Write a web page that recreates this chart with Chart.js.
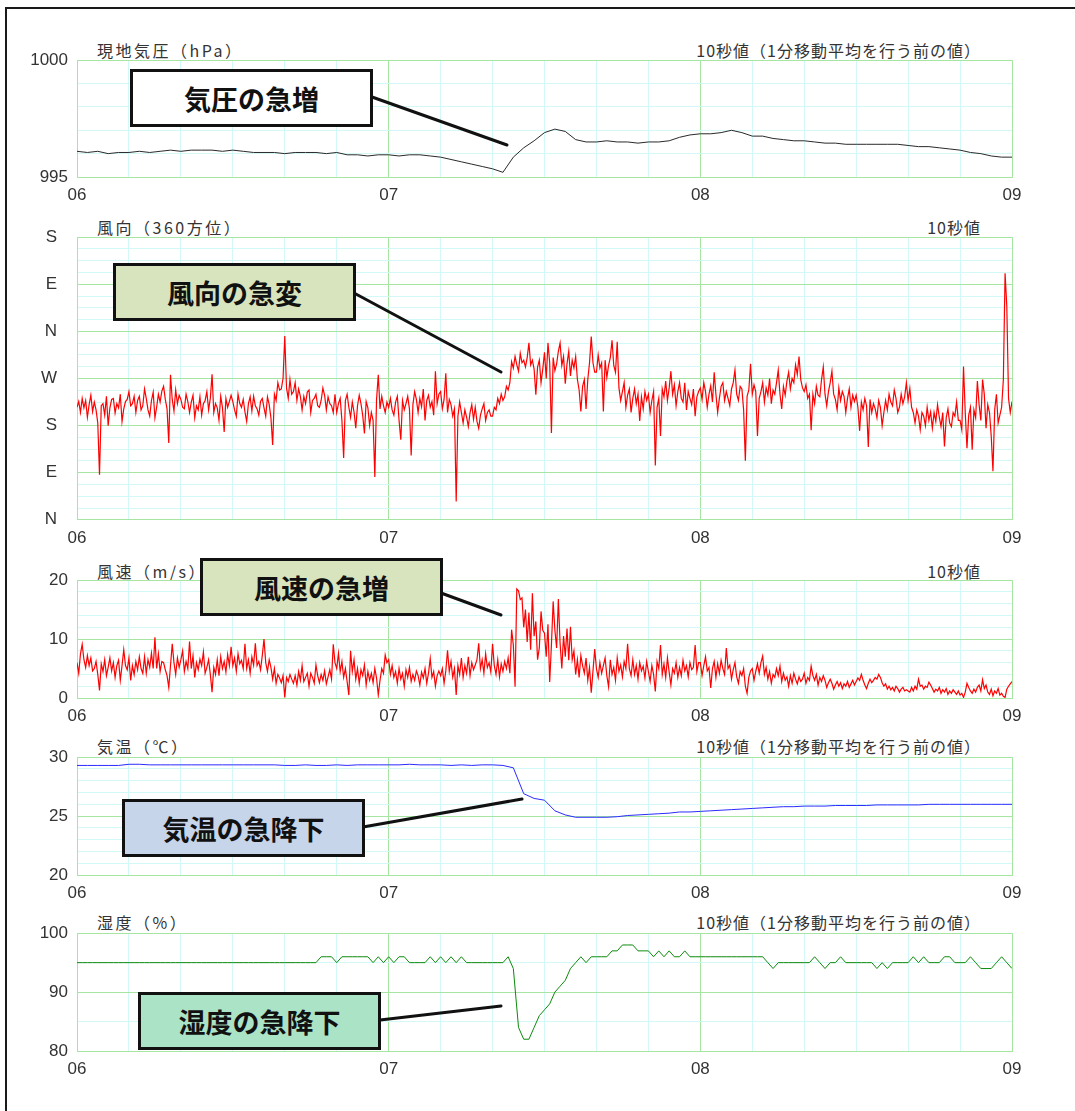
<!DOCTYPE html>
<html lang="ja">
<head>
<meta charset="utf-8">
<title>気象要素の急変</title>
<script src="https://cdn.jsdelivr.net/npm/chart.js@4.4.1/dist/chart.umd.min.js"></script>
<style>
  html, body { margin: 0; padding: 0; background: #fff; }
  body { width: 1075px; height: 1111px; position: relative; overflow: hidden;
         font-family: "Noto Sans CJK JP", "Noto Sans", sans-serif; }
  .frame { position: absolute; left: 5px; top: 7px; width: 1200px; height: 1200px; border: 2px solid #1a1a1a; }
  .panel { position: absolute; left: 0; }
  .title { position: absolute; font-size: 16px; line-height: 18px; letter-spacing: 1px; color: #333; white-space: nowrap; }
  .title.left { left: 97px; letter-spacing: 2.5px; }
  .title.right { right: 94px; }
  .note { position: absolute; box-sizing: border-box; height: 58px; width: 243px; border: 3px solid #111;
          display: flex; align-items: center; justify-content: center;
          font-size: 27px; font-weight: bold; color: #111; z-index: 3; }
  svg { position: absolute; left: 0; top: 0; z-index: 2; }
</style>
</head>
<body>
<div class="frame"></div>

<div class="title left" style="top:41px">現地気圧（hPa）</div>
<div class="title right" style="top:41px">10秒値（1分移動平均を行う前の値）</div>
<div class="title left" style="top:218px">風向（360方位）</div>
<div class="title right" style="top:218px">10秒値</div>
<div class="title left" style="top:562px">風速（m/s）</div>
<div class="title right" style="top:562px">10秒値</div>
<div class="title left" style="top:737px">気温（℃）</div>
<div class="title right" style="top:737px">10秒値（1分移動平均を行う前の値）</div>
<div class="title left" style="top:913px">湿度（%）</div>
<div class="title right" style="top:913px">10秒値（1分移動平均を行う前の値）</div>

<svg width="1075" height="1111">
  <g stroke="#111" stroke-width="3" stroke-linecap="round">
    <line x1="372" y1="97" x2="507" y2="145"/>
    <line x1="354" y1="293" x2="501" y2="372"/>
    <line x1="441" y1="593" x2="501" y2="615"/>
    <line x1="363" y1="827" x2="522" y2="799"/>
    <line x1="380" y1="1020" x2="501" y2="1006"/>
  </g>
</svg>

<div class="note" style="left:130px;top:69px;background:#ffffff">気圧の急増</div>
<div class="note" style="left:113px;top:263px;background:#d8e4bd">風向の急変</div>
<div class="note" style="left:200px;top:558px;background:#d8e4bd">風速の急増</div>
<div class="note" style="left:122px;top:799px;background:#c6d5ea">気温の急降下</div>
<div class="note" style="left:138px;top:992px;background:#abe3c6">湿度の急降下</div>

<script>
// time axis: minutes after 06:00
const hourLabels = ['06', '07', '08', '09'];
const dirLabels = ['N', 'E', 'S', 'W', 'N', 'E', 'S'];   // every 90 deg, bottom to top

// 現地気圧 hPa, every 2 min
const pressure = [
  996.1, 996.05, 996.1, 996.0, 996.05, 996.05, 996.1, 996.05, 996.1, 996.15,
  996.1, 996.15, 996.15, 996.15, 996.1, 996.15, 996.1, 996.05, 996.05, 996.05,
  996.0, 996.05, 996.05, 996.05, 996.0, 996.05, 995.95, 995.95, 995.9, 995.95,
  995.95, 995.9, 995.95, 995.95, 995.9, 995.85, 995.75, 995.65, 995.55, 995.45,
  995.35, 995.2, 995.85, 996.25, 996.55, 996.9, 997.05, 996.95, 996.6, 996.5,
  996.5, 996.55, 996.5, 996.5, 996.45, 996.5, 996.5, 996.55, 996.7, 996.8,
  996.85, 996.85, 996.9, 997.0, 996.9, 996.75, 996.75, 996.65, 996.6, 996.55,
  996.55, 996.5, 996.45, 996.45, 996.4, 996.4, 996.4, 996.4, 996.4, 996.4,
  996.35, 996.3, 996.3, 996.25, 996.2, 996.15, 996.05, 996.0, 995.9, 995.85,
  995.85
];

// 風向 deg (0 = N at the bottom, 540 = S at the top), every 20 s, one row = 10 min
const windDir = [
  215, 226, 205, 232, 214, 228, 196, 220, 238, 207, 225, 210, 185, 86, 218, 222, 200, 236, 180, 214, 230, 232, 204, 222, 214, 240, 188, 212, 226, 230,
  245, 218, 222, 236, 205, 228, 236, 210, 218, 250, 232, 210, 198, 228, 244, 195, 215, 240, 225, 246, 255, 230, 212, 147, 277, 230, 208, 248, 222, 238,
  230, 215, 212, 240, 226, 205, 225, 238, 195, 218, 210, 235, 200, 222, 228, 245, 210, 232, 278, 205, 222, 214, 190, 236, 215, 168, 232, 215, 226, 238,
  226, 210, 198, 240, 222, 215, 230, 206, 188, 222, 235, 208, 236, 218, 212, 200, 226, 232, 214, 198, 235, 220, 195, 143, 240, 228, 262, 248, 250, 270,
  351, 252, 232, 268, 240, 245, 262, 228, 250, 236, 210, 236, 222, 244, 248, 205, 228, 232, 240, 218, 215, 228, 252, 238, 210, 235, 222, 218, 205, 240,
  205, 222, 232, 190, 118, 228, 240, 215, 196, 225, 206, 175, 218, 238, 222, 200, 165, 226, 214, 180, 205, 190, 82, 230, 277, 212, 236, 218, 205, 225,
  215, 232, 210, 200, 225, 236, 190, 153, 228, 210, 222, 236, 212, 123, 220, 245, 230, 205, 232, 216, 250, 190, 228, 238, 215, 226, 200, 284, 222, 240,
  245, 212, 230, 280, 205, 230, 220, 198, 212, 35, 198, 225, 205, 185, 210, 196, 178, 205, 220, 192, 215, 188, 175, 200, 212, 222, 190, 205, 210, 198,
  198, 215, 210, 232, 222, 240, 228, 235, 255, 248, 262, 302, 290, 312, 296, 284, 318, 300, 305, 292, 310, 338, 296, 305, 288, 239, 292, 305, 262, 288,
  320, 270, 338, 300, 166, 310, 285, 298, 322, 338, 295, 312, 260, 298, 322, 275, 305, 290, 312, 268, 248, 207, 255, 268, 212, 268, 300, 350, 300, 282,
  282, 315, 290, 300, 207, 305, 272, 295, 310, 343, 295, 282, 340, 252, 228, 245, 262, 215, 238, 250, 205, 232, 250, 222, 240, 189, 235, 212, 245, 228,
  240, 205, 228, 245, 104, 215, 232, 160, 250, 235, 265, 228, 252, 284, 240, 258, 218, 245, 262, 232, 225, 262, 210, 245, 232, 220, 250, 198, 235, 245,
  252, 230, 262, 245, 215, 240, 256, 225, 282, 240, 205, 232, 255, 262, 228, 245, 232, 218, 250, 262, 286, 240, 228, 255, 250, 210, 113, 236, 248, 298,
  240, 258, 245, 160, 232, 245, 262, 225, 252, 238, 270, 222, 248, 240, 262, 286, 240, 212, 255, 238, 265, 282, 250, 270, 262, 296, 278, 312, 268, 252,
  245, 258, 232, 240, 171, 240, 222, 255, 238, 235, 268, 292, 240, 218, 245, 262, 284, 240, 230, 210, 252, 228, 245, 236, 205, 232, 250, 215, 238, 226,
  238, 215, 170, 225, 210, 232, 218, 139, 230, 205, 222, 212, 195, 228, 215, 180, 205, 228, 210, 240, 225, 218, 248, 232, 205, 215, 240, 222, 235, 262,
  228, 251, 215, 205, 185, 210, 198, 172, 205, 198, 180, 215, 190, 206, 175, 205, 188, 220, 196, 178, 205, 140, 195, 212, 185, 178, 205, 198, 225, 190,
  190, 172, 293, 205, 137, 200, 215, 134, 210, 195, 265, 220, 190, 268, 240, 175, 220, 205, 160, 93, 210, 240, 185, 200, 215, 267, 471, 408, 232, 205,
  226
];

// 風速 m/s, every 20 s, one row = 10 min
const windSpeed = [
  6.0, 4.2, 7.5, 9.1, 6.5, 5.2, 7.2, 5.5, 6.8, 4.6, 5.0, 6.2, 4.0, 1.3, 5.8, 4.5, 6.5, 3.8, 5.2, 6.8, 4.6, 6.0, 3.5, 5.5, 6.4, 3.0, 5.5, 8.2, 5.5, 4.8,
  6.8, 3.0, 5.5, 4.0, 6.2, 4.8, 7.0, 5.0, 4.2, 7.0, 4.2, 6.5, 5.2, 7.6, 5.0, 10.3, 5.0, 7.5, 4.5, 6.2, 6.0, 4.8, 3.8, 1.8, 5.5, 9.2, 6.0, 4.0, 6.8, 5.2,
  6.5, 8.0, 4.5, 6.2, 5.0, 9.6, 5.0, 7.2, 3.5, 6.0, 4.8, 6.6, 5.5, 7.8, 4.2, 5.2, 6.5, 4.0, 1.0, 5.2, 4.0, 6.5, 3.8, 7.0, 5.0, 6.2, 4.4, 7.4, 5.5, 8.7,
  5.5, 6.8, 4.5, 7.5, 5.8, 6.4, 5.0, 9.2, 5.0, 6.5, 4.2, 7.0, 5.6, 9.3, 5.5, 6.2, 4.8, 7.2, 10.0, 6.0, 4.5, 6.5, 5.2, 3.2, 5.0, 2.5, 4.0, 3.4, 2.6, 3.8,
  0.1, 3.5, 2.8, 4.0, 3.2, 2.5, 3.8, 2.2, 4.5, 3.0, 5.5, 2.8, 3.5, 4.2, 2.0, 4.2, 3.5, 2.5, 5.6, 3.8, 2.6, 4.0, 3.0, 4.6, 2.4, 3.6, 4.8, 3.2, 9.1, 6.0,
  5.0, 7.6, 4.5, 6.2, 3.5, 5.0, 2.8, 0.5, 8.0, 4.5, 6.5, 3.2, 5.0, 2.5, 4.8, 3.8, 5.6, 2.2, 4.5, 3.0, 4.2, 2.6, 5.0, 3.4, 0.5, 3.0, 5.0, 4.2, 7.3, 6.0,
  6.5, 4.0, 5.5, 3.5, 4.5, 2.5, 5.0, 3.2, 4.2, 2.0, 4.8, 3.5, 5.2, 2.8, 4.0, 3.0, 4.6, 3.8, 2.2, 4.4, 3.4, 5.0, 2.5, 4.2, 6.7, 3.5, 4.5, 2.0, 3.8, 4.6,
  3.8, 5.0, 2.5, 4.6, 8.1, 4.5, 6.2, 3.5, 5.0, 0.5, 5.5, 4.0, 6.8, 3.5, 5.5, 4.2, 7.0, 3.8, 6.0, 4.8, 5.6, 6.5, 9.3, 5.0, 6.5, 4.2, 7.5, 5.2, 6.0, 4.4,
  9.2, 5.5, 4.0, 6.5, 3.6, 5.8, 4.5, 6.2, 5.0, 6.8, 4.2, 11.6, 9.0, 1.9, 18.5, 18.2, 16.7, 17.0, 12.0, 15.0, 9.5, 14.5, 8.2, 17.8, 10.5, 13.0, 6.5, 8.5, 14.7, 11.5,
  11.0, 7.0, 12.5, 2.7, 9.0, 16.4, 11.5, 8.5, 16.8, 9.3, 5.0, 10.5, 7.0, 11.8, 6.4, 12.1, 6.5, 8.0, 4.0, 6.5, 3.5, 7.2, 5.5, 4.2, 6.8, 3.0, 5.2, 0.9, 4.6, 8.3,
  5.0, 3.5, 6.0, 4.2, 5.5, 6.8, 3.8, 1.9, 6.5, 4.0, 5.2, 3.0, 6.8, 4.5, 5.6, 3.6, 6.2, 5.0, 9.2, 5.0, 3.8, 6.5, 4.0, 5.5, 3.2, 6.0, 4.6, 5.4, 3.4, 6.2,
  4.5, 2.8, 5.5, 4.0, 1.1, 6.2, 5.0, 9.0, 4.0, 5.8, 3.5, 6.8, 4.4, 2.2, 5.0, 4.2, 6.0, 3.5, 5.2, 3.8, 6.4, 4.6, 5.5, 3.6, 6.0, 4.8, 5.2, 9.0, 4.5, 6.0,
  6.0, 3.8, 5.5, 7.0, 4.6, 5.2, 1.7, 5.0, 6.2, 3.5, 5.8, 4.2, 6.4, 5.0, 4.0, 8.5, 5.0, 5.6, 3.2, 4.8, 6.0, 3.6, 2.5, 4.5, 3.8, 5.0, 2.0, 0.8, 3.5, 4.6,
  5.0, 3.0, 4.5, 5.8, 4.2, 6.0, 7.1, 4.0, 5.2, 3.2, 4.5, 2.5, 4.0, 3.5, 5.0, 3.8, 5.4, 2.8, 4.2, 3.0, 3.6, 2.0, 3.8, 2.5, 4.2, 3.2, 2.4, 3.6, 2.8, 3.2,
  4.2, 2.5, 3.5, 3.0, 5.4, 3.8, 3.0, 4.0, 2.2, 3.5, 2.8, 3.8, 3.0, 1.8, 2.6, 3.2, 2.5, 1.5, 2.2, 2.8, 2.0, 2.6, 1.6, 2.4, 2.0, 2.8, 1.8, 2.4, 3.0, 2.2,
  2.8, 3.4, 3.0, 4.0, 3.0, 2.2, 1.6, 2.5, 3.2, 2.6, 3.0, 3.5, 3.2, 4.0, 3.5, 2.6, 2.0, 2.4, 1.5, 2.0, 1.4, 1.8, 1.2, 2.0, 1.6, 1.0, 1.5, 1.8, 1.2, 1.4,
  1.2, 1.0, 1.8, 1.2, 2.0, 1.5, 3.2, 2.0, 2.2, 1.5, 2.0, 1.8, 2.7, 2.2, 1.6, 1.0, 1.5, 1.2, 1.8, 0.8, 1.4, 1.0, 1.6, 0.6, 1.2, 0.8, 1.4, 1.0, 0.6, 1.2,
  0.5, 0.8, 0.1, 1.0, 2.5, 1.8, 1.2, 0.8, 1.5, 1.0, 1.8, 2.2, 1.2, 3.1, 1.6, 2.2, 1.0, 0.6, 1.5, 0.4, 1.2, 0.8, 1.6, 0.5, 0.8, 0.3, 0.1, 1.5, 2.0, 2.4,
  2.8
];

// 気温 ℃, every 2 min
const temperature = [
  29.3, 29.3, 29.3, 29.3, 29.3, 29.4, 29.4, 29.35, 29.35, 29.35,
  29.35, 29.35, 29.35, 29.35, 29.35, 29.35, 29.35, 29.35, 29.35, 29.35,
  29.3, 29.3, 29.35, 29.3, 29.3, 29.35, 29.3, 29.35, 29.35, 29.35,
  29.35, 29.35, 29.4, 29.35, 29.35, 29.35, 29.3, 29.35, 29.3, 29.35,
  29.35, 29.3, 29.1, 26.9, 26.5, 26.35, 25.45, 25.1, 24.9, 24.9,
  24.9, 24.9, 24.95, 25.05, 25.1, 25.15, 25.2, 25.25, 25.35, 25.35,
  25.4, 25.45, 25.5, 25.55, 25.6, 25.65, 25.7, 25.75, 25.8, 25.8,
  25.85, 25.85, 25.85, 25.9, 25.9, 25.9, 25.9, 25.95, 25.95, 25.95,
  25.95, 25.95, 26.0, 26.0, 26.0, 26.0, 26.0, 26.0, 26.0, 26.0,
  26.0
];

// 湿度 %, every minute
const humidity = [
  95, 95, 95, 95, 95, 95, 95, 95, 95, 95,
  95, 95, 95, 95, 95, 95, 95, 95, 95, 95,
  95, 95, 95, 95, 95, 95, 95, 95, 95, 95,
  95, 95, 95, 95, 95, 95, 95, 95, 95, 95,
  95, 95, 95, 95, 95, 95, 95, 96, 96, 96,
  95, 96, 96, 96, 96, 96, 96, 95, 96, 95,
  96, 95, 96, 96, 95, 95, 95, 95, 96, 95,
  96, 95, 96, 95, 96, 95, 95, 95, 95, 95,
  95, 95, 95, 96, 94, 84, 82, 82, 84, 86,
  87, 88, 90, 91, 92, 94, 95, 96, 95, 96,
  96, 96, 96, 97, 97, 98, 98, 98, 97, 97,
  97, 96, 97, 96, 97, 96, 96, 97, 96, 96,
  96, 96, 96, 96, 96, 96, 96, 96, 96, 96,
  96, 96, 96, 95, 94, 95, 95, 95, 95, 95,
  95, 95, 96, 95, 94, 95, 95, 96, 95, 95,
  95, 95, 95, 95, 94, 95, 94, 95, 95, 95,
  95, 96, 95, 96, 95, 95, 95, 96, 96, 95,
  95, 95, 96, 95, 94, 94, 94, 95, 96, 95,
  94
];

const GREEN = '#a6e6a2';
const CYAN = '#d3f8f8';
const tickFont = { family: 'Liberation Sans', size: 17 };
const PLOT_LEFT = 77, PLOT_RIGHT = 1012, AXIS_H = 30;

function toPoints(values, step) {
  return values.map((v, i) => ({ x: i * step, y: v }));
}

function buildConfig(o) {
  const isMajor = v => Math.abs((v - o.min) % o.major) < 1e-6;
  return {
    type: 'line',
    data: {
      datasets: [{
        data: toPoints(o.values, o.step),
        borderColor: o.color,
        borderWidth: o.width || 1,
        pointRadius: 0,
        tension: 0,
        fill: false
      }]
    },
    options: {
      responsive: false,
      animation: false,
      parsing: false,
      layout: { padding: { top: 0, right: 1040 - PLOT_RIGHT, left: 0, bottom: 0 } },
      plugins: { legend: { display: false }, tooltip: { enabled: false } },
      scales: {
        x: {
          type: 'linear', min: 0, max: 180,
          afterFit: s => { s.height = AXIS_H; },
          border: { color: GREEN },
          grid: { color: c => c.tick.value % 60 === 0 ? GREEN : CYAN, drawTicks: false },
          ticks: {
            stepSize: 10, autoSkip: false, maxRotation: 0, padding: 8,
            color: '#333', font: tickFont,
            callback: v => v % 60 === 0 ? hourLabels[v / 60] : ''
          }
        },
        y: {
          min: o.min, max: o.max,
          afterFit: s => { s.width = PLOT_LEFT; },
          border: { color: GREEN },
          grid: { color: c => isMajor(c.tick.value) ? GREEN : CYAN, drawTicks: false },
          ticks: {
            stepSize: o.minor, autoSkip: false, padding: o.pad || 9,
            color: '#333', font: tickFont,
            callback: v => isMajor(v) ? (o.label ? o.label(v) : String(v)) : ''
          }
        }
      }
    }
  };
}

// draw once to learn the insets Chart.js puts round the plot, then redraw at the exact size
function makePanel(o) {
  const plotH = o.bottom - o.top;
  const box = document.createElement('div');
  box.className = 'panel';
  document.body.appendChild(box);

  let cv = document.createElement('canvas');
  cv.width = 1040; cv.height = plotH + 80;
  box.appendChild(cv);
  let chart = new Chart(cv, buildConfig(o));
  const insetTop = chart.chartArea.top;
  const insetBottom = cv.height - chart.chartArea.bottom;
  chart.destroy();
  box.removeChild(cv);

  cv = document.createElement('canvas');
  cv.width = 1040; cv.height = insetTop + plotH + insetBottom;
  box.appendChild(cv);
  box.style.top = (o.top - insetTop) + 'px';
  new Chart(cv, buildConfig(o));
}

makePanel({ top: 60, bottom: 177, values: pressure, step: 2, color: '#2a2a2a',
            min: 995, max: 1000, minor: 1, major: 5 });
makePanel({ top: 237, bottom: 520, values: windDir, step: 1 / 3, color: '#ff0000', width: 1.2,
            min: 0, max: 540, minor: 22.5, major: 90, pad: 20,
            label: v => dirLabels[Math.round(v / 90)] });
makePanel({ top: 580, bottom: 698, values: windSpeed, step: 1 / 3, color: '#ff0000', width: 1.2,
            min: 0, max: 20, minor: 2, major: 10 });
makePanel({ top: 757, bottom: 875, values: temperature, step: 2, color: '#2b2bff',
            min: 20, max: 30, minor: 1, major: 5 });
makePanel({ top: 933, bottom: 1051, values: humidity, step: 1, color: '#0c8a0c',
            min: 80, max: 100, minor: 5, major: 10 });
</script>
</body>
</html>
